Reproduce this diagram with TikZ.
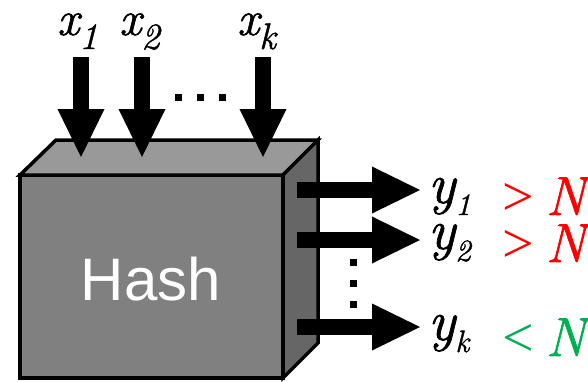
\documentclass[tikz,border=0pt]{standalone}
\usepackage{fontspec}
\newfontfamily\hashfont{Liberation Sans}
\newfontfamily\relfont{Liberation Serif}
\newfontfamily\labfont{Latin Modern Roman}[FakeBold=1.2]
\usetikzlibrary{arrows.meta}
\definecolor{frontgray}{HTML}{808080}
\definecolor{topgray}{HTML}{999999}
\definecolor{sidegray}{HTML}{666666}
\definecolor{relred}{HTML}{FF0000}
\definecolor{relgreen}{HTML}{00B050}
\newcommand\xlab[2]{{\fontsize{49}{49}\selectfont\labfont\itshape #1}\raisebox{-14pt}{\fontsize{37}{37}\selectfont\labfont\itshape #2}}
\newcommand\ylab[2]{{\fontsize{57}{57}\selectfont\labfont\itshape #1}\raisebox{-12pt}{\fontsize{31}{31}\selectfont\labfont\itshape #2}}
\newcommand\relat[2]{{\fontsize{56}{56}\selectfont\relfont #1}\hspace{12pt}{\fontsize{55}{55}\selectfont\labfont\itshape #2}}
\begin{document}
\begin{tikzpicture}[x=1pt,y=-1pt,
  face/.style={draw=black, line width=3.5pt, line join=miter},
  bigarrow/.style={line width=16pt, -{Triangle[length=48pt,width=47pt,line width=0pt]}},
  lab/.style={inner sep=0pt, anchor=base west},
  dotsq/.style={fill=black}]
\useasboundingbox (0,0) rectangle (588,381);
% box
\coordinate (fa) at (20,175);
\coordinate (fb) at (283,175);
\coordinate (fc) at (283,378);
\coordinate (fd) at (20,378);
\coordinate (ba) at (56,140);
\coordinate (bb) at (318,140);
\coordinate (bc) at (318,343);
\filldraw[face, fill=frontgray] (fa) -- (fb) -- (fc) -- (fd) -- cycle;
\filldraw[face, fill=topgray] (fa) -- (ba) -- (bb) -- (fb) -- cycle;
\filldraw[face, fill=sidegray] (fb) -- (bb) -- (bc) -- (fc) -- cycle;
\node[text=white, inner sep=0pt, font=\hashfont\fontsize{60}{60}\selectfont] (hash) at (151,279) {Hash};
% input arrows
\node[lab] (x1) at (57,35) {\xlab{x}{1}};
\node[lab] (x2) at (119,35) {\xlab{x}{2}};
\node[lab] (xk) at (237,35) {\xlab{x}{k}};
\coordinate (in1s) at (81,57);
\coordinate (in2s) at (142,57);
\coordinate (inks) at (263,57);
\coordinate (in1) at (81,157);
\coordinate (in2) at (142,157);
\coordinate (ink) at (263,157);
\draw[bigarrow] (in1s) -- (in1);
\draw[bigarrow] (in2s) -- (in2);
\draw[bigarrow] (inks) -- (ink);
\fill[dotsq] (174.5,93.5) rectangle +(7,7);
\fill[dotsq] (196.5,93.5) rectangle +(7,7);
\fill[dotsq] (218.5,93.5) rectangle +(7,7);
% output arrows
\coordinate (out1s) at (297,190);
\coordinate (out2s) at (297,240);
\coordinate (outks) at (297,327);
\coordinate (out1) at (420,190);
\coordinate (out2) at (420,240);
\coordinate (outk) at (420,327);
\draw[bigarrow] (out1s) -- (out1);
\draw[bigarrow] (out2s) -- (out2);
\draw[bigarrow] (outks) -- (outk);
\fill[dotsq] (349.5,258.5) rectangle +(7,7);
\fill[dotsq] (349.5,279.5) rectangle +(7,7);
\fill[dotsq] (349.5,300.5) rectangle +(7,7);
% output labels
\node[lab] (y1) at (428,203) {\ylab{y}{1}};
\node[lab] (y2) at (428,249) {\ylab{y}{2}};
\node[lab] (yk) at (428,340) {\ylab{y}{k}};
\node[lab, text=relred] (r1) at (502,215) {\relat{>}{N}};
\node[lab, text=relred] (r2) at (502,262) {\relat{>}{N}};
\node[lab, text=relgreen] (rk) at (502,356) {\relat{<}{N}};
\end{tikzpicture}
\end{document}
